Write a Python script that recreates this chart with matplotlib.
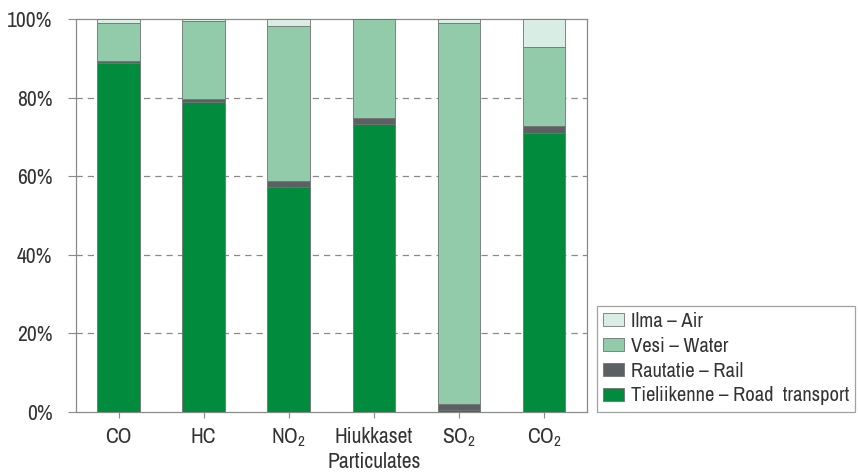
import matplotlib.pyplot as plt
from matplotlib import font_manager as fm
import numpy as np

# pick a narrow family if one is installed, otherwise Roboto
names = sorted({f.name for f in fm.fontManager.ttflist})
narrow = [n for n in names if 'Narrow' in n or 'Condensed' in n]
if narrow:
    family = narrow[0]
    fsize = 15.5
else:
    family = 'Roboto'
    fsize = 13

plt.rcParams['font.family'] = [family, 'DejaVu Sans']
plt.rcParams['mathtext.fontset'] = 'custom'
plt.rcParams['mathtext.rm'] = family

# Shares of emissions (%) by transport mode
categories = ['CO', 'HC', 'NO$_2$', 'Hiukkaset\nParticulates', 'SO$_2$', 'CO$_2$']
road = [88.8, 79.0, 57.3, 73.3, 0.6, 71.0]
rail = [0.4, 0.7, 1.6, 1.5, 1.4, 1.8]
water = [9.7, 19.8, 39.3, 25.2, 97.0, 20.1]
air = [1.1, 0.5, 1.8, 0.0, 1.0, 7.1]

series = [
    ('Tieliikenne – Road  transport', road, '#008c3c'),
    ('Rautatie – Rail', rail, '#5c6063'),
    ('Vesi – Water', water, '#92cba9'),
    ('Ilma – Air', air, '#d9ede5'),
]

fig = plt.figure(figsize=(8.58, 4.76), dpi=100)
ax = fig.add_axes([0.0886, 0.1345, 0.595, 0.8255])

x = np.arange(len(categories))
bottom = np.zeros(len(categories))
handles = []
for label, vals, color in series:
    b = ax.bar(x, vals, width=0.5, bottom=bottom, color=color,
               edgecolor='#6f7472', linewidth=0.6, label=label, zorder=3)
    handles.append(b)
    bottom += np.array(vals)

ax.set_xlim(-0.5, 5.5)
ax.set_ylim(0, 100)
ax.set_yticks([0, 20, 40, 60, 80, 100])
ax.set_yticklabels(['0%', '20%', '40%', '60%', '80%', '100%'])
ax.set_xticks(x)
ax.set_xticklabels(categories, linespacing=1.35)

for y in [20, 40, 60, 80]:
    ax.axhline(y, color='#8a8a8a', linestyle=(0, (5, 4)), linewidth=0.9, zorder=1)

for s in ax.spines.values():
    s.set_color('#8a8a8a')
    s.set_linewidth(0.9)

ax.tick_params(axis='y', length=6, color='#8a8a8a', labelsize=fsize,
               labelcolor='#333333', pad=11)
ax.tick_params(axis='x', length=4.5, color='#8a8a8a', labelsize=fsize,
               labelcolor='#333333', pad=6)

# legend: shrink the font until the frame fits inside the figure
renderer = fig.canvas.get_renderer()
lsize = fsize
while True:
    leg = fig.legend(handles=handles[::-1], labels=[s[0] for s in series][::-1],
                     loc='upper left', bbox_to_anchor=(0.696, 0.357),
                     fontsize=lsize, frameon=True, fancybox=False,
                     edgecolor='#8a8a8a', handlelength=1.0, handleheight=0.6,
                     handletextpad=0.35, labelspacing=0.28, borderpad=0.3,
                     borderaxespad=0)
    if leg.get_window_extent(renderer).x1 <= 856 or lsize < 9:
        break
    leg.remove()
    lsize -= 0.25
leg.get_frame().set_linewidth(0.9)
for t in leg.get_texts():
    t.set_color('#333333')

fig.savefig('out.png', dpi=100)
